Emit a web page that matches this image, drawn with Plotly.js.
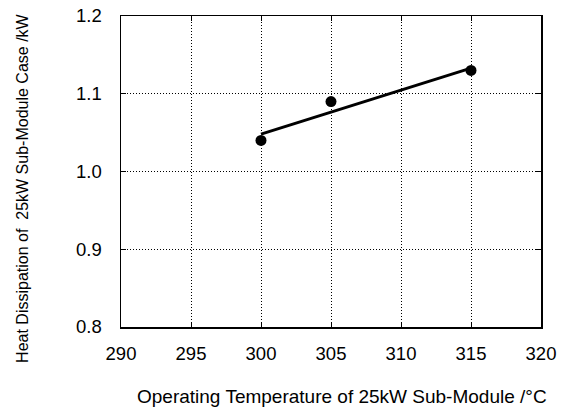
<!DOCTYPE html>
<html>
<head>
<meta charset="utf-8">
<script src="https://cdn.plot.ly/plotly-3.0.1.min.js"></script>
<style>html,body{margin:0;padding:0;background:#fff;}#chart{width:562px;height:407px;}</style>
</head>
<body>
<div id="chart"></div>
<script>
// Measured points
const tempC = [300, 305, 315];
const heatKW = [1.04, 1.09, 1.13];
// Fitted trend line endpoints
const fitTemp = [300, 315];
const fitHeat = [1.048, 1.133];
// Axis ticks
const xTicks = [290, 295, 300, 305, 310, 315, 320];
const yTicks = [0.8, 0.9, 1.0, 1.1, 1.2];
const yTickText = ['0.8', '0.9', '1.0', '1.1', '1.2'];
const xTitle = 'Operating Temperature of 25kW Sub-Module /°C';
const yTitle = 'Heat Dissipation of  25kW Sub-Module Case /kW';

const font = 'Liberation Sans, Arial, Helvetica, sans-serif';

const traces = [
  {x: fitTemp, y: fitHeat, mode: 'lines', line: {color: '#000', width: 3}, hoverinfo: 'skip', showlegend: false},
  {x: tempC, y: heatKW, mode: 'markers', marker: {color: '#000', size: 11}, showlegend: false}
];

const axisCommon = {
  showline: true, linecolor: '#000', linewidth: 1.5, mirror: 'ticks',
  ticks: 'inside', ticklen: 5, tickcolor: '#000', tickwidth: 1,
  showgrid: true, gridcolor: '#000', gridwidth: 1, griddash: '1px,2px',
  zeroline: false, tickfont: {family: font, size: 18.5, color: '#000'}
};

const layout = {
  width: 562, height: 407,
  margin: {l: 121, r: 21, t: 16, b: 80},
  paper_bgcolor: '#fff', plot_bgcolor: '#fff',
  xaxis: Object.assign({}, axisCommon, {range: [290, 320], tickvals: xTicks, ticktext: xTicks.map(String), ticklabelstandoff: 9}),
  yaxis: Object.assign({}, axisCommon, {range: [0.8, 1.2], tickvals: yTicks, ticktext: yTickText, ticklabelstandoff: 14}),
  annotations: [
    {text: xTitle, xref: 'paper', yref: 'paper', x: 0.527, y: -0.225, yanchor: 'middle', xanchor: 'center', showarrow: false, font: {family: font, size: 19, color: '#000'}},
    {text: yTitle, xref: 'paper', yref: 'paper', x: -0.235, xanchor: 'center', y: 0.445, yanchor: 'middle', textangle: -90, showarrow: false, font: {family: font, size: 16, color: '#000'}}
  ]
};

Plotly.newPlot('chart', traces, layout, {displayModeBar: false, staticPlot: true});
</script>
</body>
</html>
